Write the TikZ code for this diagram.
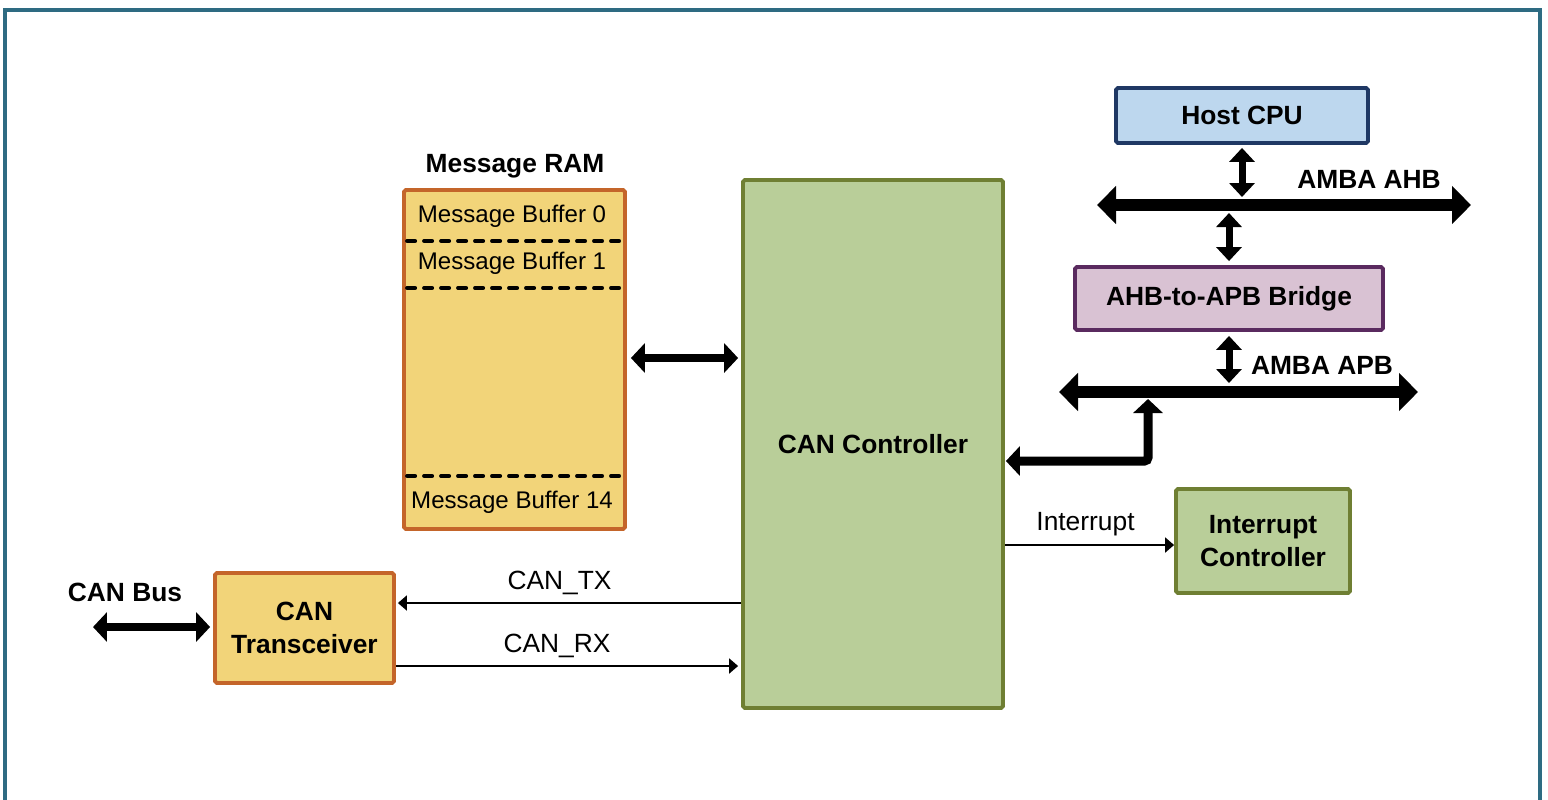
\documentclass[tikz,border=0pt]{standalone}
\usepackage{fontspec}
\setmainfont{Liberation Sans}
\usetikzlibrary{arrows.meta}

\definecolor{framec}{HTML}{2E6B82}
\definecolor{orangeline}{HTML}{C4652A}
\definecolor{yellowfill}{HTML}{F2D479}
\definecolor{greenline}{HTML}{6F7F33}
\definecolor{greenfill}{HTML}{B9CE99}
\definecolor{navyline}{HTML}{1F3864}
\definecolor{bluefill}{HTML}{BDD7EE}
\definecolor{purpleline}{HTML}{5A2A5F}
\definecolor{pinkfill}{HTML}{D9C2D3}

\newcommand{\boldtxt}{\fontsize{15}{18.7}\selectfont\bfseries}
\newcommand{\plaintxt}{\fontsize{13.7}{16}\selectfont}
\newcommand{\sigtxt}{\fontsize{15}{18}\selectfont}

\tikzset{
  block/.style = {draw, line width=2.2pt, rounded corners=1pt, inner sep=0pt,
                  align=center, font=\boldtxt},
  busline/.style = {line width=0.24cm, {Triangle[width=0.74cm,length=0.38cm]}-{Triangle[width=0.74cm,length=0.38cm]}},
  fatline/.style = {line width=0.17cm, {Triangle[width=0.58cm,length=0.28cm]}-{Triangle[width=0.58cm,length=0.28cm]}},
  vline/.style = {line width=0.14cm, {Triangle[width=0.5cm,length=0.28cm]}-{Triangle[width=0.5cm,length=0.28cm]}},
  sigline/.style = {line width=1.1pt, -{Triangle[width=0.3cm,length=0.18cm]}},
}

\begin{document}
\begin{tikzpicture}[x=0.02cm, y=-0.02cm]
        \useasboundingbox (0,0) rectangle (1548,799);
        \clip (0,0) rectangle (1548,799);
        \draw[framec, line width=2pt] (5,10) rectangle (1540,840);

        % blocks
        \node[block, draw=orangeline, fill=yellowfill, minimum width=4.42cm, minimum height=6.78cm] (ram) at (514.5,359.5) {};
        \node[font=\boldtxt] (ramtitle) at (515,166) {Message RAM};
        \node[block, draw=greenline, fill=greenfill, minimum width=5.2cm, minimum height=10.56cm] (ctrl) at (873,444) {CAN Controller};
        \node[block, draw=navyline, fill=bluefill, minimum width=5.04cm, minimum height=1.1cm] (cpu) at (1242,115.5) {Host CPU};
        \node[block, draw=purpleline, fill=pinkfill, minimum width=6.16cm, minimum height=1.26cm] (bridge) at (1229,298.5) {AHB-to-APB Bridge};
        \node[block, draw=greenline, fill=greenfill, minimum width=3.48cm, minimum height=2.08cm] (intc) at (1263,541) {Interrupt\\Controller};
        \node[block, draw=orangeline, fill=yellowfill, minimum width=3.58cm, minimum height=2.2cm] (xcvr) at (304.5,628) {CAN\\Transceiver};

        % message buffers
        \foreach \yy in {241,288,476}
          \draw[line width=0.08cm, line cap=round, dash pattern=on 0.16cm off 0.18cm] (ram.west |- 0,\yy) ++(5,0) -- ([xshift=-0.08cm]ram.east |- 0,\yy);
        \node[font=\plaintxt] (mb0) at (512,216) {Message Buffer 0};
        \node[font=\plaintxt] (mb1) at (512,263) {Message Buffer 1};
        \node[font=\plaintxt] (mb14) at (512,502) {Message Buffer 14};

        % buses
        \coordinate (ahbL) at (1097,205);
        \coordinate (ahbR) at (1471,205);
        \coordinate (apbL) at (1059,392);
        \coordinate (apbR) at (1418,392);
        \draw[busline] (ahbL) -- (ahbR);
        \draw[busline] (apbL) -- (apbR);
        \node[font=\boldtxt] (ahblabel) at (1369,179) {AMBA AHB};
        \node[font=\boldtxt] (apblabel) at (1322,365) {AMBA APB};

        \draw[vline, shorten <=0.06cm, shorten >=0.16cm] (cpu.south) -- (cpu.south |- ahbL);
        \draw[vline, shorten <=0.16cm, shorten >=0.08cm] (bridge.north |- ahbL) -- (bridge.north);
        \draw[vline, shorten <=0.08cm, shorten >=0.18cm] (bridge.south) -- (bridge.south |- apbL);

        % controller to APB
        \coordinate (tap) at (1148,392);
        \coordinate (elbow) at (1148,461);
        \draw[fatline, line width=0.18cm, rounded corners=2pt, shorten <=0.02cm, shorten >=0.14cm]
          (ctrl.east |- elbow) -- (elbow) -- (tap);

        % RAM to controller
        \draw[fatline, shorten <=0.08cm, shorten >=0.06cm] (ram.east |- 0,358) -- (ctrl.west |- 0,358);

        % signals
        \draw[sigline] (ctrl.east |- 0,545) -- node[above=1pt, xshift=-0.08cm, font=\sigtxt]{Interrupt} (intc.west |- 0,545);
        \draw[sigline] (ctrl.west |- 0,603) -- node[above=1pt, xshift=-0.2cm, font=\sigtxt]{CAN\_TX} ([xshift=0.04cm]xcvr.east |- 0,603);
        \draw[sigline] (xcvr.east |- 0,666) -- node[above=1pt, xshift=-0.2cm, font=\sigtxt]{CAN\_RX} ([xshift=-0.06cm]ctrl.west |- 0,666);

        % CAN bus
        \coordinate (busend) at (93,627);
        \draw[fatline, line width=0.15cm, shorten <=0.06cm] (xcvr.west |- busend) -- (busend);
        \node[font=\boldtxt] (buslabel) at (125,592) {CAN Bus};
\end{tikzpicture}
\end{document}
